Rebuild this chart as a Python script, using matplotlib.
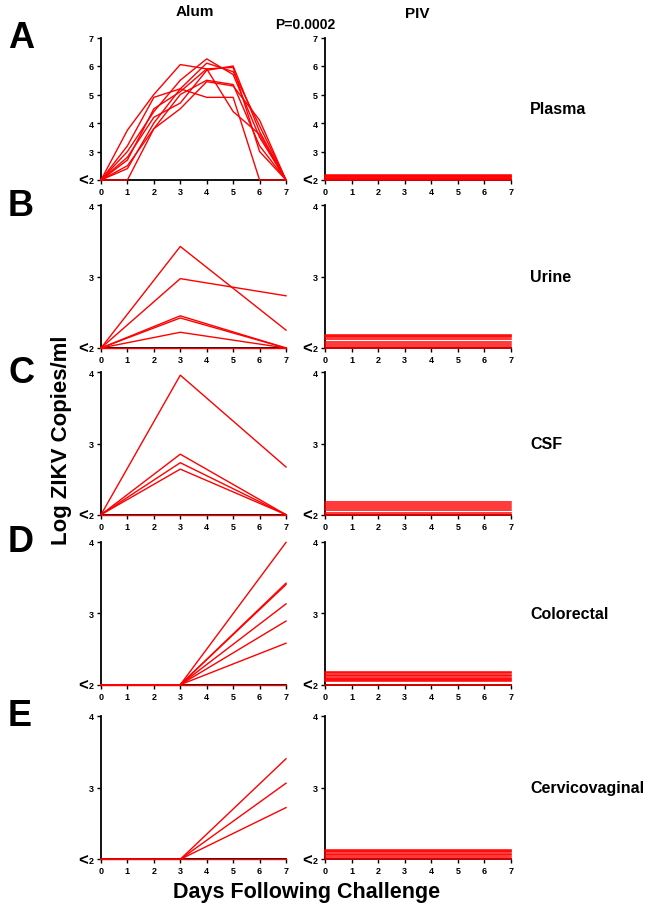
import numpy as np
import matplotlib
matplotlib.use("Agg")
import matplotlib.pyplot as plt

plt.rcParams['font.family'] = ['Liberation Sans', 'DejaVu Sans']
plt.rcParams['font.weight'] = 'bold'

RED = '#ff0000'

# Alum group traces (log ZIKV copies/ml, 2 = below detection)
plasma_days = [0, 1, 2, 3, 4, 5, 6, 7]
plasma_alum = [
    [2, 3.75, 5.0, 6.05, 5.9, 5.95, 3.0, 2],
    [2, 3.0, 4.4, 5.5, 6.25, 5.7, 3.5, 2],
    [2, 2.4, 4.0, 5.2, 6.1, 5.8, 3.9, 2],
    [2, 2.5, 3.8, 4.5, 5.45, 5.3, 4.1, 2],
    [2, 2.7, 4.5, 5.1, 5.9, 4.4, 3.6, 2],
    [2, 2.0, 3.8, 5.0, 5.5, 5.35, 3.2, 2],
    [2, 3.2, 4.9, 5.2, 4.9, 4.9, 2.0, 2],
    [2, 2.8, 4.2, 4.7, 5.85, 6.0, 3.7, 2],
]
sample_days = [0, 3, 7]
urine_alum = [
    [2, 3.42, 2.25],
    [2, 2.97, 2.73],
    [2, 2.45, 2.0],
    [2, 2.42, 2.0],
    [2, 2.22, 2.0],
    [2, 2.0, 2.0],
]
csf_alum = [
    [2, 3.96, 2.67],
    [2, 2.85, 2.0],
    [2, 2.73, 2.0],
    [2, 2.64, 2.0],
    [2, 2.0, 2.0],
]
colorectal_alum = [
    [2, 2.0, 3.99],
    [2, 2.0, 3.42],
    [2, 2.0, 3.40],
    [2, 2.0, 3.13],
    [2, 2.0, 2.89],
    [2, 2.0, 2.58],
    [2, 2.0, 2.0],
]
cervico_alum = [
    [2, 2.0, 3.40],
    [2, 2.0, 3.06],
    [2, 2.0, 2.72],
    [2, 2.0, 2.0],
]

# PIV group: all animals below detection, drawn as staggered flat lines
piv_plasma = [2.00, 2.025, 2.05, 2.075, 2.10, 2.125, 2.15, 2.175]
piv_urine = [2.00, 2.03, 2.06, 2.09, 2.12, 2.15, 2.17, 2.18]
piv_csf = [2.00, 2.03, 2.06, 2.09, 2.12, 2.15, 2.18]
piv_colorectal = [2.00, 2.045, 2.06, 2.08, 2.10, 2.12, 2.14, 2.16, 2.18]
piv_cervico = [2.00, 2.03, 2.06, 2.08, 2.10, 2.12, 2.135]

panels = [
    ('A', 'Plasma', plasma_days, plasma_alum, piv_plasma, 7),
    ('B', 'Urine', sample_days, urine_alum, piv_urine, 4),
    ('C', 'CSF', sample_days, csf_alum, piv_csf, 4),
    ('D', 'Colorectal', sample_days, colorectal_alum, piv_colorectal, 4),
    ('E', 'Cervicovaginal', sample_days, cervico_alum, piv_cervico, 4),
]

W, H = 654, 912
rows_px = [(38.5, 181), (206, 349), (373.3, 515.7), (542.7, 685.7), (716.7, 860.3)]
cols_px = [(101, 286), (325, 511)]

fig = plt.figure(figsize=(W / 100, H / 100), dpi=100)


def style_axis(ax, ymax):
    ax.set_xlim(0, 7)
    ax.set_ylim(2, ymax)
    for s in ['top', 'right']:
        ax.spines[s].set_visible(False)
    for s in ['left', 'bottom']:
        ax.spines[s].set_linewidth(1.3)
    ax.set_xticks(range(8))
    ax.set_xticklabels([str(i) for i in range(8)], fontsize=6.5, fontweight='bold')
    ax.set_yticks(range(2, ymax + 1))
    ax.set_yticklabels(['2'] + [str(v) for v in range(3, ymax + 1)], fontsize=6.5, fontweight='bold')
    ax.tick_params(direction='out', length=3, width=1, pad=2)
    # the "<" in front of the lowest tick label (below detection)
    ax.text(-18 / 185, 0.0, '<', transform=ax.transAxes, fontsize=12, fontweight='bold',
            ha='center', va='center')


for (letter, name, days, alum, piv, ymax), (top, bot) in zip(panels, rows_px):
    axs = []
    for (x0, x1) in cols_px:
        ax = fig.add_axes([x0 / W, 1 - bot / H, (x1 - x0) / W, (bot - top) / H])
        style_axis(ax, ymax)
        axs.append(ax)
    for trace in alum:
        axs[0].plot(days, trace, color=RED, lw=1.0, clip_on=False, zorder=3)
    for level in piv:
        axs[1].plot([0, 7], [level, level], color=RED, lw=1.1, clip_on=False, zorder=3)
    fig.text(8 / W, 1 - (top + 0) / H, letter, fontsize=26, fontweight='bold', va='center')
    fig.text(530 / W, 1 - (top + bot) / 2 / H, name, fontsize=11.5, fontweight='bold', va='center')

fig.text(195 / W, 1 - 12 / H, 'Alum', fontsize=11, fontweight='bold', ha='center', va='center')
fig.text(417 / W, 1 - 14 / H, 'PIV', fontsize=11, fontweight='bold', ha='center', va='center')
fig.text(305 / W, 1 - 25 / H, 'P=0.0002', fontsize=10, fontweight='bold', ha='center', va='center')
fig.text(62 / W, 1 - 440 / H, 'Log ZIKV Copies/ml', fontsize=16, fontweight='bold',
         rotation=90, ha='center', va='center')
fig.text(307 / W, 1 - 893 / H, 'Days Following Challenge', fontsize=15.5, fontweight='bold',
         ha='center', va='center')

fig.savefig('out.png', dpi=100)
